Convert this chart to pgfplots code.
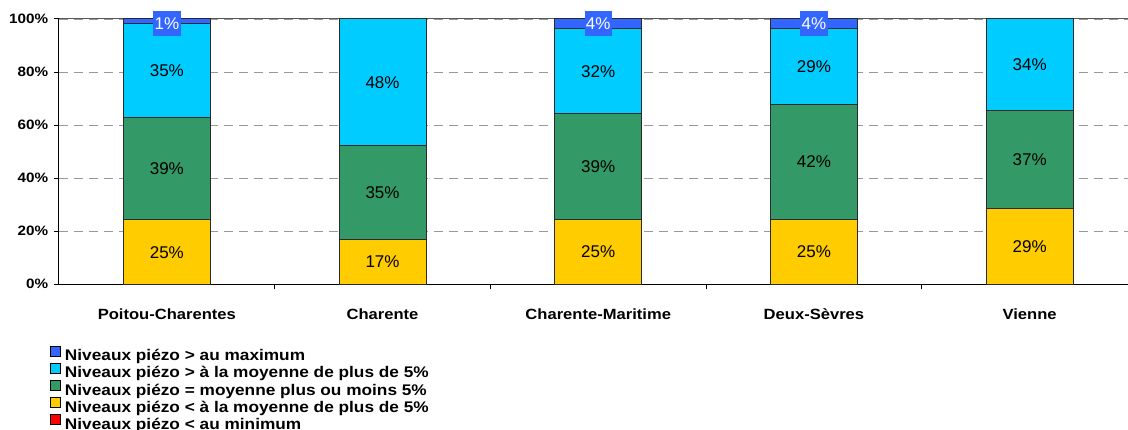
\documentclass[border=0pt]{standalone}
\usepackage{fontspec}
\setmainfont{Liberation Sans}
\newfontfamily\bst[FakeStretch=1.12]{Liberation Sans}
\usepackage{pgfplots}
\pgfplotsset{compat=1.18}
\definecolor{cmax}{HTML}{3366FF}
\definecolor{chigh}{HTML}{00CCFF}
\definecolor{cmid}{HTML}{339966}
\definecolor{clow}{HTML}{FFCC00}
\definecolor{cmin}{HTML}{FF0000}
\definecolor{gridgray}{HTML}{999999}
\definecolor{edge}{HTML}{2A2A2A}
\begin{document}
\begin{tikzpicture}
\useasboundingbox (0pt,0pt) rectangle (1128pt,430pt);
\pgfplotsset{
  common/.style={
    scale only axis, width=1069pt, height=265.3pt,
    at={(59pt,145.7pt)}, anchor=south west,
    xmin=-0.5, xmax=4.456, ymin=0, ymax=100,
  }
}
\begin{axis}[common,
  ybar stacked, bar width=87pt,
  axis x line*=bottom, axis y line*=left,
  axis line style={black, line width=1pt},
  xtick={0,1,2,3,4},
  xticklabels={Poitou-Charentes,Charente,Charente-Maritime,Deux-Sèvres,Vienne},
  xticklabel style={font=\bst\fontsize{14.8}{16}\selectfont\bfseries, inner sep=0pt, text height=11pt, text depth=3pt, anchor=north, yshift=-18.8pt},
  major x tick style={draw=none},
  extra x ticks={0.5,1.5,2.5,3.5},
  extra x tick labels={},
  extra x tick style={major tick length=5pt, tick align=outside, major x tick style={draw=black, line width=1pt}},
  ytick={0,20,40,60,80,100},
  yticklabel={\pgfmathprintnumber{\tick}\%},
  /pgf/number format/assume math mode=true,
  yticklabel style={font=\bst\fontsize{13.6}{15}\selectfont\bfseries, inner sep=0pt, xshift=-5.7pt},
  y tick style={black, line width=1pt},
  tick align=outside, major tick length=5pt,
  ymajorgrids,
  grid style={gridgray, dash pattern=on 9pt off 6pt, line width=0.8pt},
  extra y ticks={100}, extra y tick labels={},
  extra y tick style={grid style={solid, black!65, line width=1pt}},
  every axis plot/.append style={draw=edge, line width=1pt},
  reverse legend,
  legend image code/.code={\draw[#1, draw=black, line width=0.8pt] (0pt,0pt) rectangle (10pt,10pt);},
  legend style={draw=none, fill=none, inner sep=0pt, at={(-0.00842,-0.2328)}, anchor=north west,
    font=\bst\fontsize{15.4}{17}\selectfont\bfseries, legend cell align=left, row sep=-1.1pt,
    nodes={inner sep=0pt, text height=12pt, text depth=3.5pt},
    /tikz/every odd column/.append style={column sep=4pt}},
]
\addplot[fill=cmin] coordinates {(0,0) (1,0) (2,0) (3,0) (4,0)};
\addlegendentry{Niveaux piézo < au minimum}
\addplot[fill=clow] coordinates {(0,24.3) (1,17.0) (2,24.6) (3,24.6) (4,28.6)};
\addlegendentry{Niveaux piézo < à la moyenne de plus de 5\%}
\addplot[fill=cmid] coordinates {(0,38.7) (1,35.2) (2,39.6) (3,43.3) (4,36.9)};
\addlegendentry{Niveaux piézo = moyenne plus ou moins 5\%}
\addplot[fill=chigh] coordinates {(0,35.2) (1,47.8) (2,32.4) (3,28.7) (4,34.5)};
\addlegendentry{Niveaux piézo > à la moyenne de plus de 5\%}
\addplot[fill=cmax] coordinates {(0,1.8) (1,0) (2,3.4) (3,3.4) (4,0)};
\addlegendentry{Niveaux piézo > au maximum}
\end{axis}
\begin{axis}[common, hide axis, clip=false]
\addplot[draw=none, mark=none, nodes near coords, point meta=explicit symbolic,
  nodes near coords align=center,
  every node near coord/.append style={font=\fontsize{17}{19}\selectfont, text=black, inner sep=0pt, text height=12.3pt, text depth=0pt, anchor=center}]
  coordinates {(0,12.15)[25\%] (0,43.65)[39\%] (0,80.6)[35\%]
               (1,8.5)[17\%] (1,34.6)[35\%] (1,76.1)[48\%]
               (2,12.3)[25\%] (2,44.4)[39\%] (2,80.4)[32\%]
               (3,12.3)[25\%] (3,46.25)[42\%] (3,82.25)[29\%]
               (4,14.3)[29\%] (4,47.05)[37\%] (4,82.75)[34\%]};
\addplot[draw=none, mark=none, nodes near coords, point meta=explicit symbolic,
  nodes near coords align=center,
  every node near coord/.append style={font=\fontsize{17}{19}\selectfont, text=white, fill=cmax, inner xsep=1.4pt, inner ysep=6.2pt, text height=12.3pt, text depth=0pt, anchor=center}]
  coordinates {(0,98.4)[1\%] (2,98.4)[4\%] (3,98.4)[4\%]};
\end{axis}
\end{tikzpicture}
\end{document}
